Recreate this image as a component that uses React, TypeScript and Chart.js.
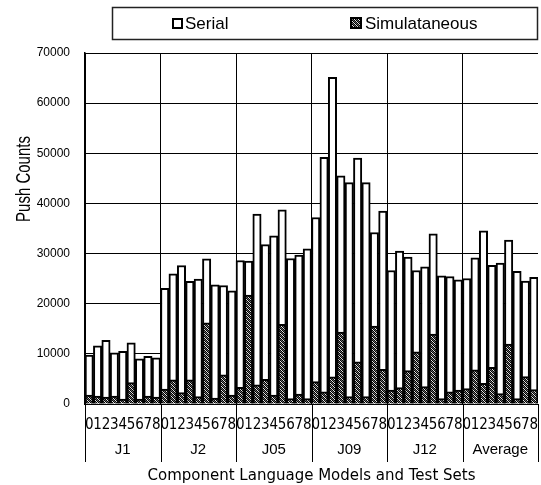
import React, { useEffect, useRef } from 'react';
import { Chart, registerables } from 'chart.js';

Chart.register(...registerables);

const groups = ['J1', 'J2', 'J05', 'J09', 'J12', 'Average'];
const testSets = ['0', '1', '2', '3', '4', '5', '6', '7', '8'];

const serialJ1 = [9760, 11600, 12700, 10200, 10500, 12200, 9000, 9500, 9200];
const serialJ2 = [23050, 25960, 27630, 24440, 24900, 28950, 23770, 23640, 22570];
const serialJ05 = [28620, 28480, 37900, 31800, 33530, 38700, 29020, 29680, 30940];
const serialJ09 = [37190, 49200, 65140, 45480, 44160, 49060, 44160, 34200, 38450];
const serialJ12 = [26630, 30480, 29280, 26630, 27350, 33920, 25560, 25430, 24760];
const serialAvg = [25030, 29140, 34520, 27650, 28090, 32670, 26440, 24520, 25250];

const simulJ1 = [1800, 1600, 1400, 1600, 1000, 4250, 1000, 1600, 1400];
const simulJ2 = [3000, 4800, 2300, 4800, 1500, 16200, 1200, 5800, 1800];
const simulJ05 = [3300, 21700, 3800, 4900, 1800, 15870, 1100, 2000, 1100];
const simulJ09 = [4450, 2450, 5400, 14340, 1500, 8400, 1500, 15540, 6900];
const simulJ12 = [2800, 3250, 6650, 10400, 3450, 13950, 1100, 2450, 2800];
const simulAvg = [3100, 6800, 4100, 7300, 2100, 11950, 1100, 5450, 2900];

const serialValues = [...serialJ1, ...serialJ2, ...serialJ05, ...serialJ09, ...serialJ12, ...serialAvg];
const simulValues = [...simulJ1, ...simulJ2, ...simulJ05, ...simulJ09, ...simulJ12, ...simulAvg];
const tickLabels = groups.flatMap(() => testSets);

const yMin = 0;
const yMax = 70000;
const yStep = 10000;

const seriesNames = ['Serial', 'Simulataneous'];
const xTitle = 'Component Language Models and Test Sets';
const yTitle = 'Push Counts';

function makePattern(ctx: CanvasRenderingContext2D): CanvasPattern | string {
  const c = document.createElement('canvas');
  c.width = 4;
  c.height = 4;
  const p = c.getContext('2d');
  if (!p) return '#666';
  for (let y = 0; y < 4; y++) {
    for (let x = 0; x < 4; x++) {
      let col = '#e4e4e4';
      if ((x + y) % 2 === 0) col = '#000';
      else if ((x - y + 8) % 4 === 1) col = '#6a6a6a';
      p.fillStyle = col;
      p.fillRect(x, y, 1, 1);
    }
  }
  return ctx.createPattern(c, 'repeat') || '#666';
}

export default function App() {
  const ref = useRef<HTMLCanvasElement | null>(null);

  useEffect(() => {
    const canvas = ref.current;
    if (!canvas) return;
    const ctx = canvas.getContext('2d');
    if (!ctx) return;
    const hatch = makePattern(ctx);

    const decor = {
      id: 'decor',
      afterDraw(chart: any) {
        const c = chart.ctx as CanvasRenderingContext2D;
        const xs = chart.scales.x;
        const area = chart.chartArea;
        c.save();
        // group separators below the axis
        c.strokeStyle = '#000';
        c.lineWidth = 1;
        const step = xs.width / tickLabels.length;
        for (let k = 0; k <= groups.length; k++) {
          const px = Math.round(xs.left + k * testSets.length * step) + 0.5;
          c.beginPath();
          c.moveTo(px, area.bottom);
          c.lineTo(px, 462);
          c.stroke();
        }
        // legend
        c.lineWidth = 1.5;
        c.strokeStyle = '#222';
        c.strokeRect(112.5, 7.5, 425, 32);
        c.lineWidth = 2;
        c.strokeStyle = '#000';
        c.fillStyle = '#fff';
        c.fillRect(173, 19, 9, 9);
        c.strokeRect(173, 19, 9, 9);
        c.fillStyle = hatch as any;
        c.fillRect(351, 18, 10, 10);
        c.strokeRect(351, 18, 10, 10);
        c.fillStyle = '#000';
        c.font = '17px "Liberation Sans", Arial, sans-serif';
        c.textBaseline = 'middle';
        c.textAlign = 'left';
        c.fillText(seriesNames[0], 185, 24);
        c.fillText(seriesNames[1], 365, 24);
        // y title
        c.translate(24, 179);
        c.rotate(-Math.PI / 2);
        c.scale(0.75, 1);
        c.font = '20px "Liberation Sans", Arial, sans-serif';
        c.textAlign = 'center';
        c.fillText(yTitle, 0, 0);
        c.restore();
      },
    };

    const chart = new Chart(canvas, {
      type: 'bar',
      data: {
        labels: tickLabels,
        datasets: [
          {
            label: seriesNames[0],
            data: serialValues,
            backgroundColor: '#ffffff',
            borderColor: '#000000',
            borderWidth: 2,
            grouped: false,
            order: 1,
            barPercentage: 1,
            categoryPercentage: 1,
          } as any,
          {
            label: seriesNames[1],
            data: simulValues,
            backgroundColor: hatch as any,
            borderColor: '#000000',
            borderWidth: 2,
            grouped: false,
            order: 0,
            barPercentage: 1,
            categoryPercentage: 1,
          } as any,
        ],
      },
      options: {
        responsive: false,
        animation: false,
        layout: { padding: { top: 53, right: 3, left: 0, bottom: 0 } },
        plugins: {
          legend: { display: false },
          tooltip: { enabled: false },
        },
        scales: {
          x: {
            type: 'category',
            position: 'bottom',
            weight: 0,
            offset: true,
            grid: {
              offset: true,
              color: (c: any) => (c.index % testSets.length === 0 ? '#000' : 'rgba(0,0,0,0)'),
              lineWidth: 1,
              drawTicks: true,
              tickLength: 10,
              tickColor: 'rgba(0,0,0,0)',
            },
            border: { display: true, color: '#000', width: 1 },
            ticks: {
              autoSkip: false,
              maxRotation: 0,
              minRotation: 0,
              color: '#000',
              padding: 2,
              font: { family: '"Liberation Sans Narrow", "DejaVu Sans Condensed", sans-serif', size: 15 },
            },
            afterFit: (s: any) => {
              s.height = 32;
            },
          },
          x2: {
            type: 'category',
            labels: groups,
            position: 'bottom',
            weight: 1,
            offset: true,
            grid: { display: false, drawTicks: false },
            border: { display: false },
            ticks: {
              color: '#000',
              padding: 5,
              font: { family: '"Liberation Sans", Arial, sans-serif', size: 15 },
            },
            title: {
              display: true,
              text: xTitle,
              color: '#000',
              padding: { top: 0, bottom: 0 },
              font: { family: '"DejaVu Sans", sans-serif', size: 15 },
            },
            afterFit: (s: any) => {
              s.height = 49;
            },
          },
          y: {
            min: yMin,
            max: yMax,
            ticks: {
              stepSize: yStep,
              color: '#000',
              padding: 15,
              font: { family: '"Liberation Sans", Arial, sans-serif', size: 12 },
              callback: (v: any) => String(v),
            },
            grid: { color: '#000', lineWidth: 1, drawTicks: false },
            border: { display: true, color: '#000', width: 1.5 },
            afterFit: (s: any) => {
              s.width = 85;
            },
          },
        },
      } as any,
      plugins: [decor],
    });

    return () => {
      chart.destroy();
    };
  }, []);

  return (
    <div style={{ position: 'fixed', left: 0, top: 0, width: 541, height: 485, background: '#fff' }}>
      <canvas ref={ref} width={541} height={485} style={{ display: 'block' }} />
    </div>
  );
}
